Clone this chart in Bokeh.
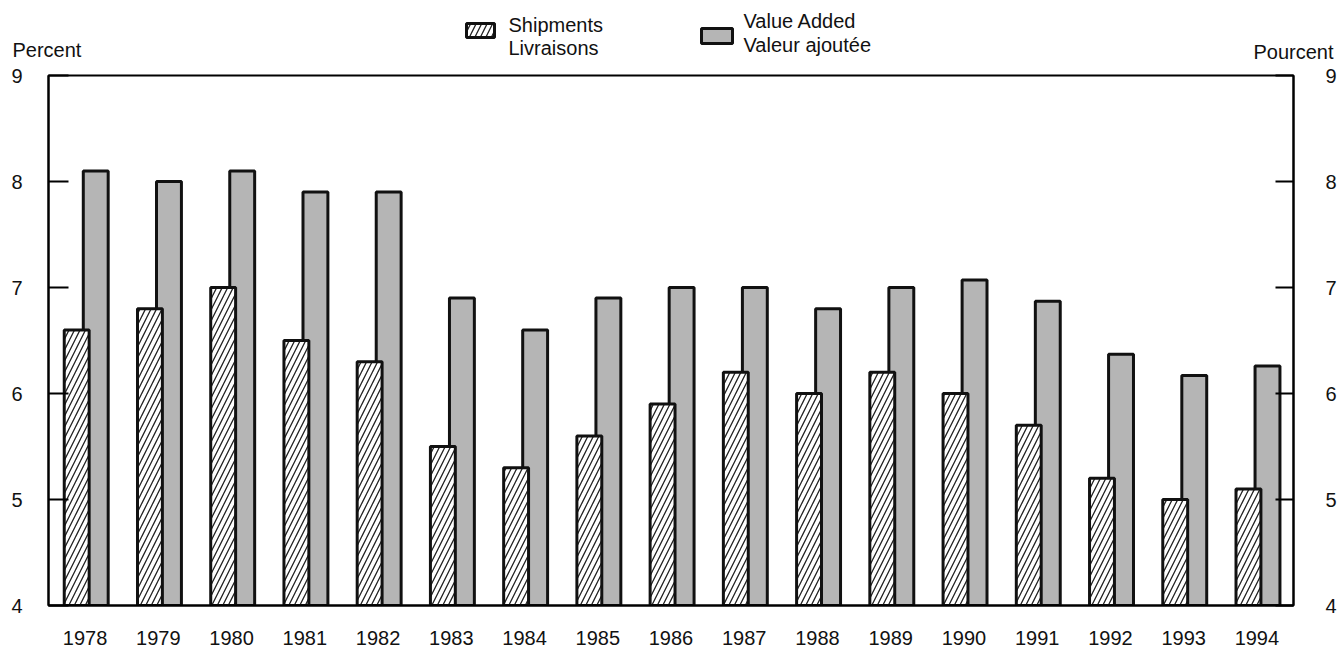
from bokeh.plotting import figure
from bokeh.layouts import column
from bokeh.models import FactorRange, Range1d, LinearAxis, FixedTicker, ColumnDataSource
from bokeh.core.properties import value
from bokeh.transform import dodge
from bokeh.embed import file_html
from bokeh.resources import INLINE

# ---- data ----
years = ["1978", "1979", "1980", "1981", "1982", "1983", "1984", "1985", "1986",
         "1987", "1988", "1989", "1990", "1991", "1992", "1993", "1994"]
shipments = [6.6, 6.8, 7.0, 6.5, 6.3, 5.5, 5.3, 5.6, 5.9, 6.2, 6.0, 6.2, 6.0, 5.7, 5.2, 5.0, 5.1]
value_added = [8.1, 8.0, 8.1, 7.9, 7.9, 6.9, 6.6, 6.9, 7.0, 7.0, 6.8, 7.0, 7.07, 6.87, 6.37, 6.17, 6.26]
y_ticks = [4, 5, 6, 7, 8, 9]
legend_labels = [["Shipments", "Livraisons"], ["Value Added", "Valeur ajoutée"]]
unit_left = "Percent"
unit_right = "Pourcent"

FONT = "Liberation Sans"
FS = "20px"
INK = "#111111"
GRAY = "#b5b5b5"
W = 1339
HEAD_H = 64
MAIN_H = 651 - HEAD_H
TXT_SHIFT = -8   # text glyph baseline correction (pixels)

ship_style = dict(fill_color="white", line_color=INK, line_width=3,
                  hatch_pattern="/", hatch_color="#222222", hatch_scale=11, hatch_weight=1.3)
va_style = dict(fill_color=GRAY, line_color=INK, line_width=3)

# ---------------- header (legend + unit labels) ----------------
h = figure(width=W, height=HEAD_H, x_range=Range1d(0, W), y_range=Range1d(HEAD_H, 0),
           output_backend="svg", toolbar_location=None, min_border=0)
h.frame_align = False
h.title.visible = False
h.axis.visible = False
h.grid.visible = False
h.outline_line_color = None

def htext(x, y, txt, align="left"):
    h.text(x=[x], y=[y + TXT_SHIFT], text=[txt], text_font=value(FONT),
           text_font_size=value(FS), text_color=INK, text_align=align,
           text_baseline="alphabetic")

htext(12, 57, unit_left)
htext(1333, 59, unit_right, "right")
h.quad(left=[466], right=[494], top=[23], bottom=[37], **ship_style)
htext(508, 32, legend_labels[0][0])
htext(508, 55, legend_labels[0][1])
h.quad(left=[701], right=[732], top=[28], bottom=[43], **va_style)
htext(743, 28, legend_labels[1][0])
htext(743, 52, legend_labels[1][1])

# ---------------- main chart ----------------
src = ColumnDataSource(dict(year=years, ship=shipments, va=value_added))

p = figure(width=W, height=MAIN_H, x_range=FactorRange(*years),
           y_range=Range1d(4, 9), output_backend="svg", toolbar_location=None,
           min_border_left=48, min_border_right=44, min_border_top=75 - HEAD_H,
           min_border_bottom=46)
p.frame_align = False
p.title.visible = False
p.x_range.range_padding = 0
p.grid.visible = False
p.outline_line_color = "black"
p.outline_line_width = 2

# Value added bars (behind)
p.vbar(x=dodge("year", 0.145, range=p.x_range), top="va", bottom=4, width=0.34,
       source=src, **va_style)
# Shipments bars (hatched, in front)
p.vbar(x=dodge("year", -0.115, range=p.x_range), top="ship", bottom=4, width=0.34,
       source=src, **ship_style)

xa = p.xaxis[0]
xa.axis_line_color = "black"
xa.axis_line_width = 2
xa.major_tick_line_color = None
xa.minor_tick_line_color = None
xa.major_label_text_font = FONT
xa.major_label_text_font_size = FS
xa.major_label_text_color = INK
xa.major_label_standoff = 19

def style_y(ax, tick_in, standoff):
    ax.ticker = FixedTicker(ticks=y_ticks)
    ax.axis_line_color = "black"
    ax.axis_line_width = 2
    ax.major_tick_in = tick_in
    ax.major_tick_out = 0
    ax.major_tick_line_width = 2
    ax.minor_tick_line_color = None
    ax.major_label_text_font = FONT
    ax.major_label_text_font_size = FS
    ax.major_label_text_color = INK
    ax.major_label_standoff = standoff

style_y(p.yaxis[0], 20, 26)
ra = LinearAxis()
style_y(ra, 18, 32)
p.add_layout(ra, "right")

layout = column(h, p, spacing=0)
open("out.html", "w").write(file_html(layout, INLINE))
